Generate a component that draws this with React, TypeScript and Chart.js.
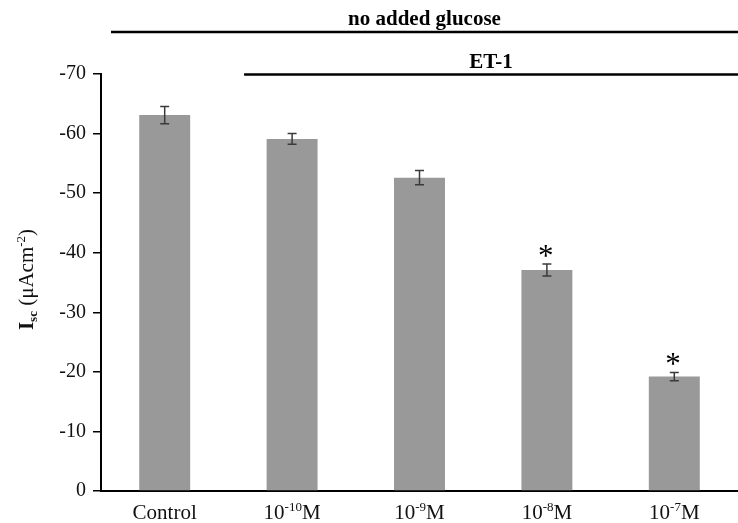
import { useEffect, useRef } from "react";
import { Chart, registerables } from "chart.js";

Chart.register(...registerables);

// ---- data ----
const categories = ["Control", "10^-10M", "10^-9M", "10^-8M", "10^-7M"];
const currentValues = [-63.1, -59.1, -52.6, -37.1, -19.2];
const semValues = [1.45, 0.9, 1.2, 1.0, 0.7];
const significant = [false, false, false, true, true];
const yMin = -70;
const yMax = 0;
const yStep = 10;
const groupLabels = ["no added glucose", "ET-1"];
const groupStartIndex = [0, 1];

const SERIF = '"Liberation Serif", "DejaVu Serif", "Times New Roman", serif';

type Run = { text: string; size: number; bold?: boolean; dy?: number };

function runsWidth(ctx: CanvasRenderingContext2D, runs: Run[]) {
  let w = 0;
  for (const r of runs) {
    ctx.font = `${r.bold ? "bold " : ""}${r.size}px ${SERIF}`;
    w += ctx.measureText(r.text).width;
  }
  return w;
}

function drawRuns(ctx: CanvasRenderingContext2D, runs: Run[], cx: number, y: number) {
  const total = runsWidth(ctx, runs);
  let x = cx - total / 2;
  ctx.textAlign = "left";
  ctx.textBaseline = "alphabetic";
  for (const r of runs) {
    ctx.font = `${r.bold ? "bold " : ""}${r.size}px ${SERIF}`;
    ctx.fillText(r.text, x, y + (r.dy || 0));
    x += ctx.measureText(r.text).width;
  }
}

function labelRuns(label: string): Run[] {
  const m = label.match(/^(\d+)\^(-?\d+)(.*)$/);
  if (!m) return [{ text: label, size: 21 }];
  return [
    { text: m[1], size: 21 },
    { text: m[2], size: 13, dy: -8 },
    { text: m[3], size: 21 },
  ];
}

const yTitleRuns: Run[] = [
  { text: "I", size: 21, bold: true },
  { text: "sc", size: 13, bold: true, dy: 4 },
  { text: " (μAcm", size: 21 },
  { text: "-2", size: 13, dy: -8 },
  { text: ")", size: 21 },
];

const decorPlugin = {
  id: "decor",
  afterDatasetsDraw(chart: any) {
    const ctx: CanvasRenderingContext2D = chart.ctx;
    const area = chart.chartArea;
    const xs = chart.scales.x;
    const ys = chart.scales.y;
    const meta = chart.getDatasetMeta(0);
    ctx.save();

    // error bars
    ctx.strokeStyle = "#3a3a3a";
    ctx.lineWidth = 1.5;
    currentValues.forEach((v, i) => {
      const x = meta.data[i].x;
      const yTop = ys.getPixelForValue(v - semValues[i]);
      const yBot = ys.getPixelForValue(v + semValues[i]);
      ctx.strokeStyle = "#3a3a3a";
      ctx.lineWidth = 1.5;
      ctx.beginPath();
      ctx.moveTo(x, yTop);
      ctx.lineTo(x, yBot);
      ctx.moveTo(x - 4.5, yTop);
      ctx.lineTo(x + 4.5, yTop);
      ctx.moveTo(x - 4.5, yBot);
      ctx.lineTo(x + 4.5, yBot);
      ctx.stroke();
      if (significant[i]) {
        ctx.fillStyle = "#000";
        ctx.font = `31px ${SERIF}`;
        const m = ctx.measureText("*");
        const cy = yTop - 13.5;
        const by = cy + (m.actualBoundingBoxAscent - m.actualBoundingBoxDescent) / 2;
        const bx = x - (m.actualBoundingBoxRight - m.actualBoundingBoxLeft) / 2 + m.actualBoundingBoxLeft;
        ctx.textAlign = "left";
        ctx.textBaseline = "alphabetic";
        ctx.fillText("*", bx, by);
      }
    });

    // x labels
    ctx.fillStyle = "#111";
    categories.forEach((c, i) => {
      drawRuns(ctx, labelRuns(c), xs.getPixelForValue(i), area.bottom + 28);
    });

    // y title
    ctx.save();
    ctx.translate(33, (area.top + area.bottom) / 2 - 3);
    ctx.rotate(-Math.PI / 2);
    drawRuns(ctx, yTitleRuns, 0, 0);
    ctx.restore();

    // group lines & labels
    const lineYs = [area.top - 42, area.top + 0.5];
    const starts = [area.left + 10, xs.getPixelForValue(groupStartIndex[1]) - 48];
    groupLabels.forEach((g, k) => {
      const x0 = starts[k];
      const x1 = area.right;
      const ly = lineYs[k];
      ctx.strokeStyle = "#000";
      ctx.lineWidth = 2.5;
      ctx.beginPath();
      ctx.moveTo(x0, ly);
      ctx.lineTo(x1, ly);
      ctx.stroke();
      ctx.fillStyle = "#000";
      drawRuns(ctx, [{ text: g, size: 21, bold: true }], (x0 + x1) / 2, ly - 7);
    });

    ctx.restore();
  },
};

export default function App() {
  const ref = useRef<HTMLCanvasElement | null>(null);
  useEffect(() => {
    document.body.style.margin = "0";
    document.body.style.overflow = "hidden";
    const canvas = ref.current!;
    const chart = new Chart(canvas, {
      type: "bar",
      data: {
        labels: categories,
        datasets: [
          {
            data: currentValues,
            backgroundColor: "#999999",
            borderWidth: 0,
            barPercentage: 0.4,
            categoryPercentage: 1,
          },
        ],
      },
      options: {
        responsive: false,
        animation: false,
        devicePixelRatio: 1,
        layout: { padding: { top: 74, left: 0, right: -6, bottom: 0 } },
        plugins: {
          legend: { display: false },
          tooltip: { enabled: false },
        },
        scales: {
          x: {
            grid: { display: false },
            border: { display: true, color: "#000", width: 2 },
            ticks: { display: false },
            afterFit: (s: any) => {
              s.height = 32;
            },
          },
          y: {
            min: yMin,
            max: yMax,
            reverse: true,
            grid: {
              drawOnChartArea: false,
              drawTicks: true,
              tickLength: 8,
              color: "#000",
              lineWidth: 1.5,
            },
            border: { display: true, color: "#000", width: 2 },
            ticks: {
              stepSize: yStep,
              color: "#111",
              padding: 7,
              font: { family: SERIF, size: 20 },
            },
            afterFit: (s: any) => {
              s.width = 101;
            },
          },
        },
      },
      plugins: [decorPlugin],
    });
    return () => chart.destroy();
  }, []);
  return (
    <div style={{ width: 738, height: 523, overflow: "hidden" }}>
      <canvas ref={ref} width={738} height={523} style={{ display: "block" }} />
    </div>
  );
}
